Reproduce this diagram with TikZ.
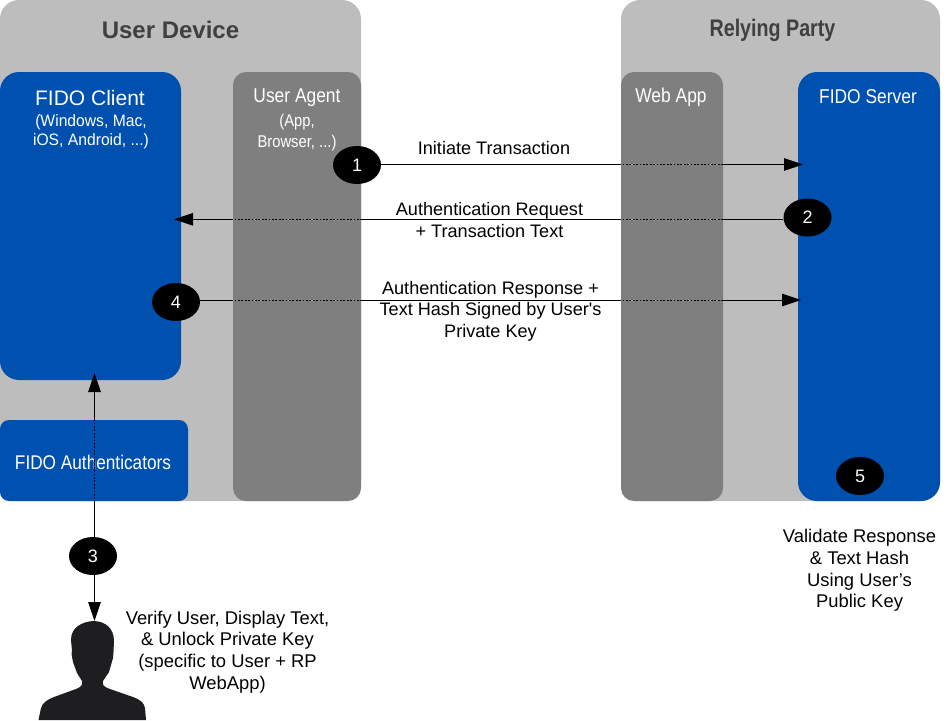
\documentclass[tikz,border=0pt]{standalone}
\usepackage{fontspec}
\setmainfont{Liberation Sans}
\newfontfamily\plainfont{Liberation Sans}
\usetikzlibrary{arrows.meta,shapes.geometric}
\definecolor{panelgrey}{HTML}{BDBDBD}
\definecolor{agentgrey}{HTML}{7F7F7F}
\definecolor{fidoblue}{HTML}{0050B0}
\definecolor{titlegrey}{HTML}{404040}
\definecolor{personblack}{HTML}{1E1E20}
\newcommand{\nar}[2][0.87]{\scalebox{#1}[1]{#2}}
\tikzset{
  x=1pt,y=-1pt,
  outer/.style={fill=panelgrey,rounded corners=19},
  agent/.style={fill=agentgrey,rounded corners=13},
  fido/.style={fill=fidoblue,rounded corners=19},
  badge/.style={ellipse,fill=black,text=white,minimum width=48,minimum height=38,inner sep=0,font=\fontsize{18}{18}\selectfont},
  titletxt/.style={text=titlegrey,font=\bfseries\fontsize{24}{24}\selectfont},
  paneltxt/.style={text=white,align=center},
  msg/.style={align=center,font=\fontsize{18.1}{21.5}\selectfont,text=black},
  arr/.style={line width=1,-{Triangle[length=19,width=12.5]}},
  dots/.style={line width=1.1,dash pattern=on 1.6 off 1.8},
  note/.style={align=center,text=black,font=\fontsize{18.4}{21.7}\selectfont},
}
\begin{document}
\begin{tikzpicture}
\useasboundingbox (0,0) rectangle (949,720);
% panels
\path[outer] (0,0) rectangle (361,501);
\path[outer] (621,0) rectangle (940,501);
\path[agent] (233,72) rectangle (361,501);
\path[agent] (621,72) rectangle (723,501);
\path[fido] (0,72) rectangle (181,380);
\path[fido,rounded corners=9] (0,420) rectangle (188,501);
\path[fido] (798,72) rectangle (940,501);
% panel names
\node[titletxt] (ud) at (170.5,29.5) {User Device};
\node[titletxt] (rp) at (772.5,30) {\nar[0.82]{Relying Party}};
\node[paneltxt,font=\fontsize{21}{21}\selectfont] (fc) at (90,98) {FIDO Client};
\node[paneltxt,font=\fontsize{16.5}{19}\selectfont] (fcs) at (91,131.5) {\nar[0.95]{(Windows, Mac,}\\\nar[0.95]{iOS, Android, ...)}};
\node[paneltxt,font=\fontsize{20}{20}\selectfont] (ua) at (297,98) {\nar{User Agent}};
\node[paneltxt,font=\fontsize{17}{21}\selectfont] (uas) at (297,132.5) {\nar{(App,}\\\nar{Browser, ...)}};
\node[paneltxt,font=\fontsize{20}{20}\selectfont] (wa) at (671,97) {\nar{Web App}};
\node[paneltxt,font=\fontsize{20}{20}\selectfont] (fs) at (868,97) {\nar{FIDO Server}};
\node[paneltxt,font=\fontsize{19.8}{19.8}\selectfont] (fa) at (93,462) {\nar{FIDO Authenticators}};
% free ends of the connectors
\coordinate (srvA) at (803,164.5);
\coordinate (cliB) at (174,219.3);
\coordinate (srvC) at (801,300);
\coordinate (cliD) at (94.5,373);
\coordinate (person) at (94.5,621);
% badges
\node[badge] (b1) at (357,165) {1};
\node[badge] (b2) at (807.5,217.5) {2};
\node[badge] (b3) at (93,556) {3};
\node[badge] (b4) at (176,302) {4};
\node[badge] (b5) at (860,476) {5};
% connectors
\draw[arr] (b1.east |- srvA) -- (srvA);
\draw[arr] (b2.west |- cliB) -- (cliB);
\draw[arr] (b4.east |- srvC) -- (srvC);
\draw[arr] (cliD |- b3.north) -- (cliD);
\draw[arr] (cliD |- b3.south) -- (person);
% dotted stretches over the grey and blue panels
\draw[dots,agentgrey] (621,164.5) -- (723,164.5);
\draw[dots,agentgrey] (233,219.3) -- (361,219.3);
\draw[dots,agentgrey] (621,219.3) -- (723,219.3);
\draw[dots,agentgrey] (233,300) -- (361,300);
\draw[dots,agentgrey] (621,300) -- (723,300);
\draw[dots,fidoblue] (94.5,421) -- (94.5,501);
% messages
\node[msg] (m1) at (494,148) {Initiate Transaction};
\node[msg] (m2) at (489.5,220) {Authentication Request\\+ Transaction Text};
\node[msg] (m3) at (490.5,311) {Authentication Response +\\Text Hash Signed by User{\plainfont '}s\\Private Key};
\node[note] (n3) at (227.5,652) {Verify User, Display Text,\\\& Unlock Private Key\hspace*{7pt}\\(specific to User + RP\\WebApp)};
\node[note] (n5) at (859.5,570.5) {Validate Response\\\& Text Hash\\Using User's\hspace*{7pt}\\Public Key};
% silhouette
\fill[personblack] (38.5,720) -- (41,708) .. controls (43,702) and (47,700) .. (54,697)
 -- (76,689) .. controls (81,687) and (83,685) .. (82,681)
 -- (77,673) -- (73,662) -- (71.5,654) -- (72,651) -- (71,640)
 .. controls (71,627) and (82,622) .. (93,621)
 .. controls (106,621) and (114,629) .. (114,641) -- (113.5,652) -- (113,658) -- (109,672) -- (103,681)
 .. controls (102,685) and (104,687) .. (110,689) -- (133,697)
 .. controls (141,700) and (144,703) .. (145,708) -- (146,720) -- cycle;
\end{tikzpicture}
\end{document}
